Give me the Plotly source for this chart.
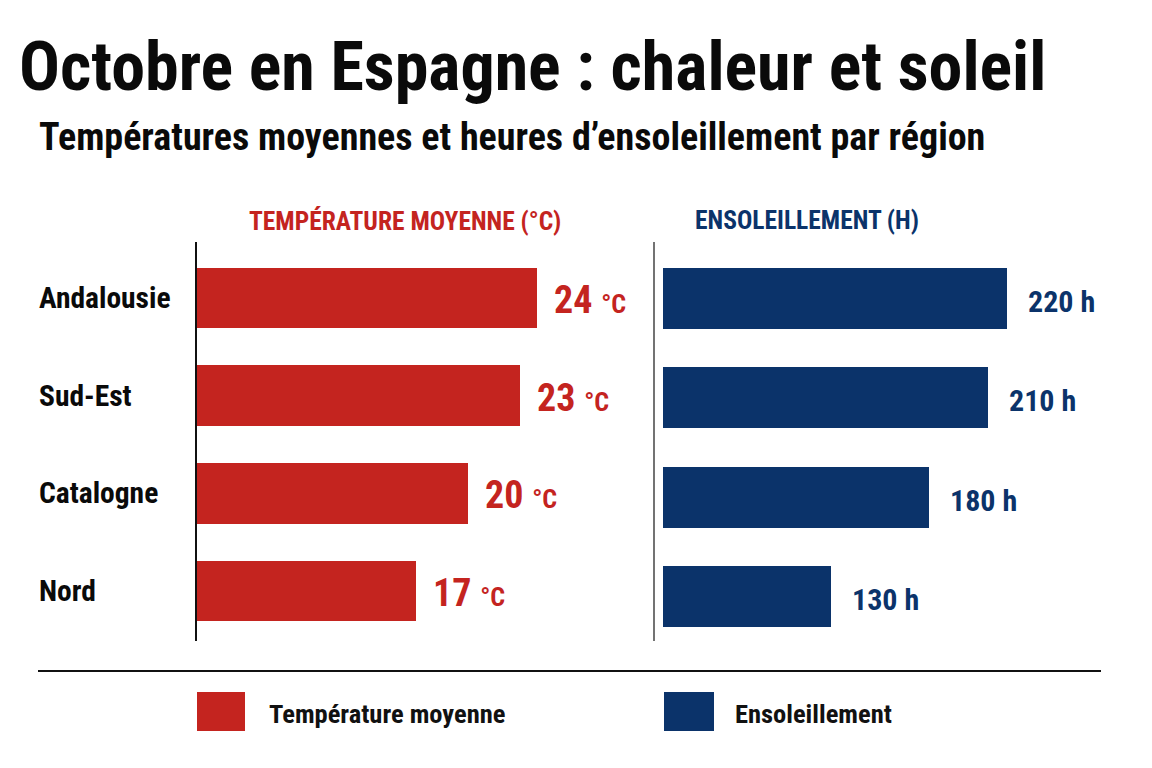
import plotly.graph_objects as go

# ---- data ----
regions = ["Andalousie", "Sud-Est", "Catalogne", "Nord"]
temperature_c = [24, 23, 20, 17]
sunshine_h = [220, 210, 180, 130]

title = "Octobre en Espagne : chaleur et soleil"
subtitle = "Températures moyennes et heures d’ensoleillement par région"
header_temp = "TEMPÉRATURE MOYENNE (°C)"
header_sun = "ENSOLEILLEMENT (H)"
legend_temp = "Température moyenne"
legend_sun = "Ensoleillement"

# ---- style ----
W, H = 1152, 768
RED = "#C4241F"
NAVY = "#0B336A"
COND = "Roboto Condensed, Liberation Sans Narrow, DejaVu Sans Condensed, Arial Narrow, sans-serif"


def px(x):
    return x / W


def py(y):
    return 1 - y / H


fig = go.Figure()

fig.add_trace(go.Bar(
    y=regions, x=temperature_c, orientation="h",
    marker=dict(color=RED, line=dict(width=0)), width=0.62,
    xaxis="x", yaxis="y", showlegend=False, hoverinfo="skip",
))
fig.add_trace(go.Bar(
    y=regions, x=sunshine_h, orientation="h",
    marker=dict(color=NAVY, line=dict(width=0)), width=0.615,
    xaxis="x2", yaxis="y2", showlegend=False, hoverinfo="skip",
))

annotations = []

# title / subtitle
annotations.append(dict(text=f"<b>{title}</b>", xref="paper", yref="paper",
                        x=px(17), y=py(67), xanchor="left", yanchor="middle",
                        showarrow=False, font=dict(family=COND, size=68, color="#0A0A0A")))
annotations.append(dict(text=f"<b>{subtitle}</b>", xref="paper", yref="paper",
                        x=px(37), y=py(137), xanchor="left", yanchor="middle",
                        showarrow=False, font=dict(family=COND, size=38, color="#0A0A0A")))

# panel headers
annotations.append(dict(text=f"<b>{header_temp}</b>", xref="paper", yref="paper",
                        x=px(405), y=py(221), xanchor="center", yanchor="middle",
                        showarrow=False, font=dict(family=COND, size=25.5, color=RED)))
annotations.append(dict(text=f"<b>{header_sun}</b>", xref="paper", yref="paper",
                        x=px(807), y=py(220), xanchor="center", yanchor="middle",
                        showarrow=False, font=dict(family=COND, size=25.5, color=NAVY)))

# region labels
for r in regions:
    annotations.append(dict(text=f"<b>{r}</b>", xref="paper", yref="y",
                            x=px(37), y=r, xanchor="left", yanchor="middle",
                            showarrow=False, font=dict(family=COND, size=29.5, color="#0A0A0A")))

# value labels
for r, v in zip(regions, temperature_c):
    annotations.append(dict(text=f"<b>{v}</b> <span style='font-size:26px'><b>°C</b></span>",
                            xref="x", yref="y", x=v, y=r, xanchor="left", yanchor="middle",
                            xshift=15, yshift=-2, showarrow=False,
                            font=dict(family=COND, size=38, color=RED)))
for r, v in zip(regions, sunshine_h):
    annotations.append(dict(text=f"<b>{v} h</b>",
                            xref="x2", yref="y2", x=v, y=r, xanchor="left", yanchor="middle",
                            xshift=19, yshift=-3, showarrow=False,
                            font=dict(family=COND, size=30, color=NAVY)))

# legend
annotations.append(dict(text=f"<b>{legend_temp}</b>", xref="paper", yref="paper",
                        x=px(267), y=py(713), xanchor="left", yanchor="middle",
                        showarrow=False, font=dict(family=COND, size=26.5, color="#111111")))
annotations.append(dict(text=f"<b>{legend_sun}</b>", xref="paper", yref="paper",
                        x=px(733), y=py(713), xanchor="left", yanchor="middle",
                        showarrow=False, font=dict(family=COND, size=26.5, color="#111111")))

shapes = [
    # panel axis lines
    dict(type="line", xref="paper", yref="paper", x0=px(196), x1=px(196), y0=py(242), y1=py(641),
         line=dict(color="#111111", width=2)),
    dict(type="line", xref="paper", yref="paper", x0=px(654), x1=px(654), y0=py(242), y1=py(641),
         line=dict(color="#444444", width=1.5)),
    # separator
    dict(type="line", xref="paper", yref="paper", x0=px(38), x1=px(1101), y0=py(671), y1=py(671),
         line=dict(color="#111111", width=2)),
    # legend swatches
    dict(type="rect", xref="paper", yref="paper", x0=px(197), x1=px(245), y0=py(692), y1=py(731),
         fillcolor=RED, line=dict(width=0)),
    dict(type="rect", xref="paper", yref="paper", x0=px(664), x1=px(714), y0=py(692), y1=py(731),
         fillcolor=NAVY, line=dict(width=0)),
]

fig.update_layout(
    width=W, height=H,
    margin=dict(l=0, r=0, t=0, b=0),
    paper_bgcolor="#FFFFFF", plot_bgcolor="#FFFFFF",
    bargap=0,
    xaxis=dict(domain=[px(197), px(640)], range=[4.35, 29.96], visible=False, fixedrange=True,
               anchor="y"),
    yaxis=dict(domain=[py(640), py(249)], categoryorder="array", categoryarray=regions,
               autorange="reversed", visible=False, fixedrange=True),
    xaxis2=dict(domain=[px(663), px(1140)], range=[43.6, 288.2], visible=False, fixedrange=True,
                anchor="y2"),
    yaxis2=dict(domain=[py(646), py(249)], categoryorder="array", categoryarray=regions,
                autorange="reversed", visible=False, fixedrange=True, anchor="x2"),
    annotations=annotations,
    shapes=shapes,
)

fig.write_html("out.html")
